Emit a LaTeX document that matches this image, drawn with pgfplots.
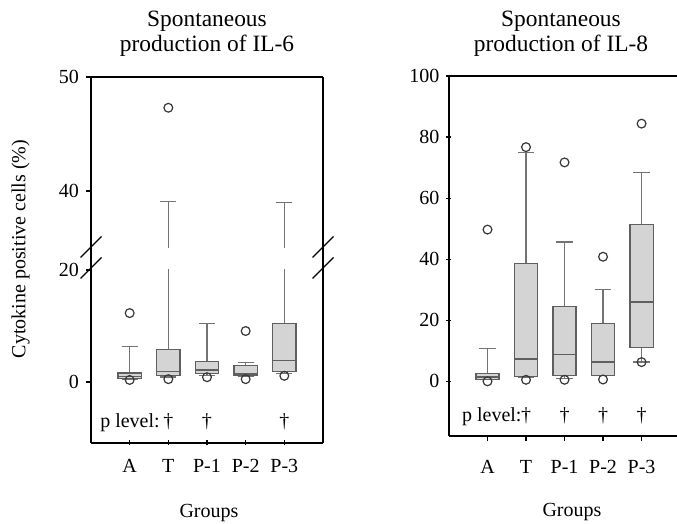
\documentclass[border=0pt]{standalone}
\usepackage{pgfplots}
\pgfplotsset{compat=1.18}
\usepgfplotslibrary{statistics}
\usepackage{fontspec}
\setmainfont{Liberation Serif}
\definecolor{boxfill}{RGB}{212,212,212}
\definecolor{boxdraw}{RGB}{95,95,95}
\definecolor{whisk}{RGB}{115,115,115}
\definecolor{outl}{RGB}{55,55,55}
\tikzset{pl/.style={inner sep=0pt, font=\fontsize{10}{12}\selectfont}}
\pgfplotsset{
  mybox/.style={
    scale only axis,
    xmin=0, xmax=6,
    tick align=outside,
    major tick length=2.5pt,
    tick style={black, line width=0.6pt},
    /pgf/number format/assume math mode=true,
    tick label style={font=\fontsize{10}{12}\selectfont},
    xtick={1,2,3,4,5},
    xticklabels={A,T,P-1,P-2,P-3},
    boxplot/draw direction=y,
    boxplot/box extend=0.6,
    boxplot/whisker extend=0.42,
    boxplot/every box/.style={draw=boxdraw, fill=boxfill, line width=0.6pt},
    boxplot/every whisker/.style={draw=whisk, line width=0.6pt},
    boxplot/every median/.style={draw=boxdraw, line width=0.8pt},
  },
  noarrows/.style={
    axis line style={black, line width=0.7pt, -},
    every outer x axis line/.append style={-},
    every outer y axis line/.append style={-},
    every inner x axis line/.append style={-},
    every inner y axis line/.append style={-},
    x axis line style={-}, y axis line style={-},
  },
  bp/.style={draw=boxdraw, line width=0.6pt, mark=o, mark size=2.2pt,
    mark options={draw=outl, line width=0.6pt}},
  lo/.style={only marks, mark=o, mark size=2.2pt,
    mark options={draw=outl, line width=0.6pt}},
}
\begin{document}
\begin{tikzpicture}[x=1pt,y=1pt]
\useasboundingbox (0,0) rectangle (338.5,262);
% ---------- left panel, lower part ----------
\begin{axis}[mybox, at={(45.5pt,40.5pt)}, anchor=south west,
  width=116pt, height=86.5pt, ymin=-10.9, ymax=20, ytick={0,20},
  axis x line=bottom, axis y line=box, noarrows, xtick pos=left, ytick pos=left,
  xticklabel style={yshift=-3.5pt}]
% lower outliers (drawn first, partly hidden by the boxes)
\addplot[lo] coordinates {(1,0.36) (2,0.5) (3,0.85) (4,0.5) (5,1.1)};
\addplot[bp, boxplot prepared={draw position=1, lower whisker=0.5, lower quartile=0.6, median=1.0, upper quartile=1.6, upper whisker=6.4}] coordinates {(1,12.3)};
\addplot[bp, boxplot prepared={draw position=2, lower whisker=0.9, lower quartile=1.1, median=1.9, upper quartile=5.8, upper whisker=39.1}] coordinates {(2,47.3)};
\addplot[bp, boxplot prepared={draw position=3, lower whisker=1.2, lower quartile=1.5, median=2.1, upper quartile=3.6, upper whisker=10.5}] coordinates {};
\addplot[bp, boxplot prepared={draw position=4, lower whisker=1.0, lower quartile=1.1, median=1.4, upper quartile=2.9, upper whisker=3.5}] coordinates {(4,9.1)};
\addplot[bp, boxplot prepared={draw position=5, lower whisker=1.5, lower quartile=1.8, median=3.8, upper quartile=10.4, upper whisker=39.0}] coordinates {};
\node[pl, anchor=base west] at (axis cs:0.23,-8.2) {p level:};
\node[pl, anchor=base] at (axis cs:2,-8.2) {\textdagger};
\node[pl, anchor=base] at (axis cs:3,-8.2) {\textdagger};
\node[pl, anchor=base] at (axis cs:5,-8.2) {\textdagger};
\end{axis}
% ---------- left panel, upper part ----------
\begin{axis}[mybox, at={(45.5pt,138pt)}, anchor=south west,
  width=116pt, height=85.5pt, ymin=35, ymax=50, ytick={40,50},
  axis x line=top, axis y line=box, noarrows, xtick=\empty, ytick pos=left]
\addplot[bp, boxplot prepared={draw position=2, lower whisker=0.9, lower quartile=1.1, median=1.9, upper quartile=5.8, upper whisker=39.1}] coordinates {(2,47.3)};
\addplot[bp, boxplot prepared={draw position=5, lower whisker=1.5, lower quartile=1.8, median=3.8, upper quartile=10.4, upper whisker=39.0}] coordinates {};
\end{axis}
% spine continuation and break marks
\draw[black, line width=0.7pt] (45.5,127) -- (45.5,138.5);
\draw[black, line width=0.7pt] (161.5,127) -- (161.5,138.5);
\foreach \yy in {138.5,128} {
  \draw[black, line width=0.6pt] (45.5-5.25,\yy-5.25) -- (45.5+5.25,\yy+5.25);
  \draw[black, line width=0.6pt] (161.5-5.25,\yy-5.25) -- (161.5+5.25,\yy+5.25);
}
% ---------- right panel ----------
\begin{axis}[mybox, at={(224.5pt,44pt)}, anchor=south west,
  width=114pt, height=180pt, xmax=5.92, ymin=-17.9, ymax=100,
  ytick={0,20,40,60,80,100},
  axis x line=box, axis y line=left, noarrows, xtick pos=left, ytick pos=left,
  xticklabel style={yshift=-6pt}]
\addplot[lo] coordinates {(1,0.0) (2,0.5) (3,0.5) (4,0.6) (5,6.3)};
\addplot[bp, boxplot prepared={draw position=1, lower whisker=0.5, lower quartile=0.7, median=1.5, upper quartile=2.5, upper whisker=10.7}] coordinates {(1,49.7)};
\addplot[bp, boxplot prepared={draw position=2, lower whisker=1.3, lower quartile=1.7, median=7.4, upper quartile=38.6, upper whisker=75.0}] coordinates {(2,76.7)};
\addplot[bp, boxplot prepared={draw position=3, lower whisker=1.0, lower quartile=2.0, median=8.8, upper quartile=24.6, upper whisker=45.6}] coordinates {(3,71.7)};
\addplot[bp, boxplot prepared={draw position=4, lower whisker=1.8, lower quartile=2.0, median=6.3, upper quartile=18.9, upper whisker=30.0}] coordinates {(4,40.8)};
\addplot[bp, boxplot prepared={draw position=5, lower whisker=6.3, lower quartile=11.0, median=25.9, upper quartile=51.4, upper whisker=68.3}] coordinates {(5,84.4)};
\node[pl, anchor=base west] at (axis cs:0.33,-13.1) {p level:};
\node[pl, anchor=base] at (axis cs:2,-13.1) {\textdagger};
\node[pl, anchor=base] at (axis cs:3,-13.1) {\textdagger};
\node[pl, anchor=base] at (axis cs:4,-13.1) {\textdagger};
\node[pl, anchor=base] at (axis cs:5,-13.1) {\textdagger};
\end{axis}
% ---------- titles and labels ----------
\node[anchor=base, font=\fontsize{11.7}{14}\selectfont] at (103.5,248.5) {Spontaneous};
\node[anchor=base, font=\fontsize{11.7}{14}\selectfont] at (103.5,236) {production of IL-6};
\node[anchor=base, font=\fontsize{11.7}{14}\selectfont] at (280.5,248.5) {Spontaneous};
\node[anchor=base, font=\fontsize{11.7}{14}\selectfont] at (280.5,236) {production of IL-8};
\node[anchor=base, rotate=90, font=\fontsize{10}{12}\selectfont] at (12.75,137.5) {Cytokine positive cells (\%)};
\node[anchor=base, font=\fontsize{10}{12}\selectfont] at (104.5,3) {Groups};
\node[anchor=base, font=\fontsize{10}{12}\selectfont] at (286,3.5) {Groups};
\end{tikzpicture}
\end{document}
